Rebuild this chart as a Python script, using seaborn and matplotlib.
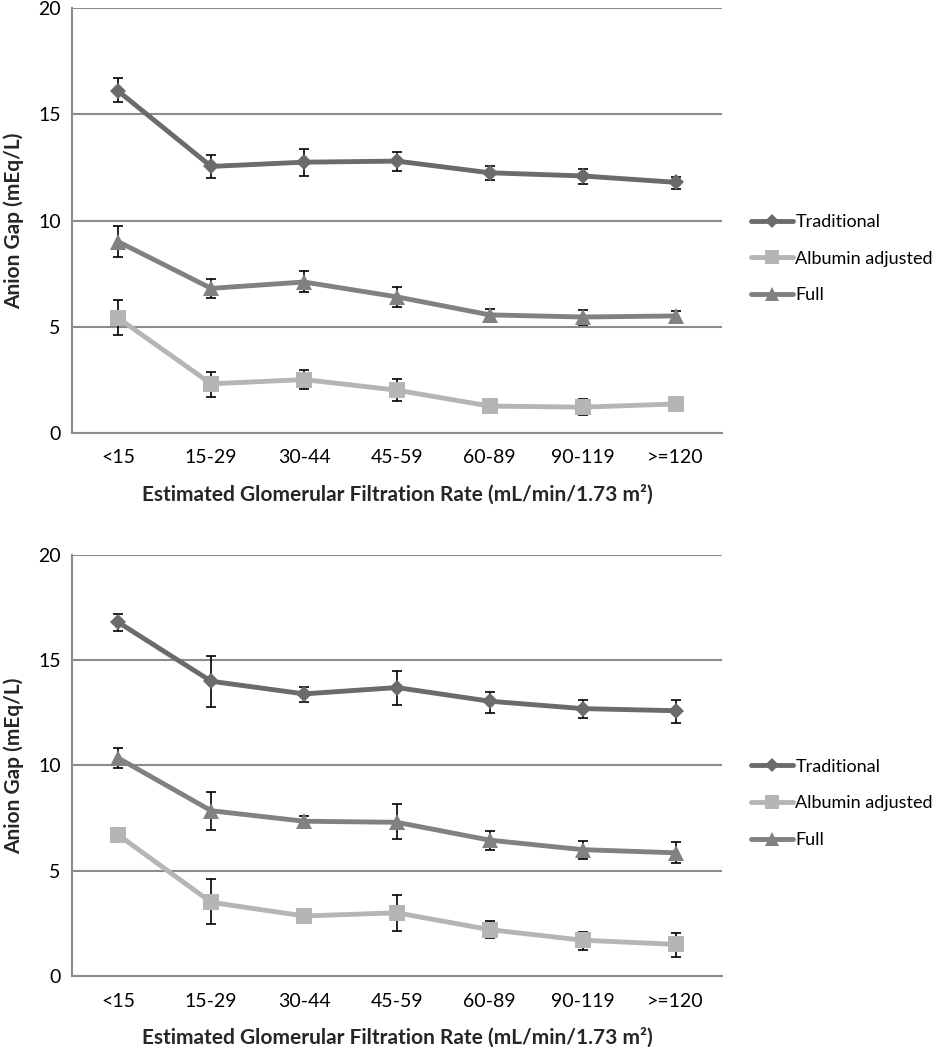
import matplotlib
matplotlib.use("Agg")
import matplotlib.pyplot as plt
from matplotlib.lines import Line2D
import seaborn as sns
import numpy as np
import pandas as pd

categories = ["<15", "15-29", "30-44", "45-59", "60-89", "90-119", ">=120"]
series_names = ["Traditional", "Albumin adjusted", "Full"]

# top panel
top_traditional = [16.1, 12.55, 12.75, 12.8, 12.25, 12.1, 11.8]
top_traditional_lo = [15.6, 12.0, 12.1, 12.35, 11.9, 11.7, 11.5]
top_traditional_hi = [16.7, 13.1, 13.35, 13.25, 12.55, 12.45, 12.05]
top_albumin = [5.4, 2.3, 2.5, 2.0, 1.25, 1.2, 1.35]
top_albumin_lo = [4.6, 1.7, 2.05, 1.5, 1.1, 0.85, 1.2]
top_albumin_hi = [6.25, 2.85, 2.95, 2.55, 1.4, 1.6, 1.5]
top_full = [9.0, 6.8, 7.1, 6.4, 5.55, 5.45, 5.5]
top_full_lo = [8.3, 6.35, 6.65, 5.9, 5.2, 5.05, 5.2]
top_full_hi = [9.75, 7.25, 7.6, 6.85, 5.85, 5.8, 5.75]

# bottom panel
bot_traditional = [16.8, 14.0, 13.4, 13.7, 13.05, 12.7, 12.6]
bot_traditional_lo = [16.4, 12.8, 13.0, 12.85, 12.5, 12.25, 12.0]
bot_traditional_hi = [17.2, 15.2, 13.75, 14.5, 13.5, 13.1, 13.1]
bot_albumin = [6.7, 3.5, 2.85, 3.0, 2.2, 1.7, 1.5]
bot_albumin_lo = [6.55, 2.45, 2.7, 2.15, 1.8, 1.25, 0.9]
bot_albumin_hi = [6.85, 4.6, 3.0, 3.85, 2.6, 2.1, 2.05]
bot_full = [10.35, 7.85, 7.35, 7.3, 6.45, 6.0, 5.85]
bot_full_lo = [9.9, 6.95, 7.15, 6.5, 6.0, 5.55, 5.35]
bot_full_hi = [10.85, 8.75, 7.6, 8.15, 6.9, 6.4, 6.35]

colors = {"Traditional": "#6b6b6b", "Albumin adjusted": "#b5b5b5", "Full": "#818181"}
markers = {"Traditional": "D", "Albumin adjusted": "s", "Full": "^"}
msizes = {"Traditional": 8, "Albumin adjusted": 11, "Full": 11}

sns.set_style("white")
plt.rcParams["font.family"] = ["Lato", "DejaVu Sans"]
plt.rcParams["text.color"] = "black"
plt.rcParams["xtick.color"] = "black"
plt.rcParams["ytick.color"] = "black"

fig = plt.figure(figsize=(9.45, 10.5), dpi=100)
ax_top = fig.add_axes([0.076, 0.588, 0.688, 0.404])
ax_bot = fig.add_axes([0.076, 0.0705, 0.688, 0.401])

panels = [
    (ax_top, {"Traditional": (top_traditional, top_traditional_lo, top_traditional_hi),
              "Albumin adjusted": (top_albumin, top_albumin_lo, top_albumin_hi),
              "Full": (top_full, top_full_lo, top_full_hi)}),
    (ax_bot, {"Traditional": (bot_traditional, bot_traditional_lo, bot_traditional_hi),
              "Albumin adjusted": (bot_albumin, bot_albumin_lo, bot_albumin_hi),
              "Full": (bot_full, bot_full_lo, bot_full_hi)}),
]

for ax, data in panels:
    rows = []
    for name in series_names:
        vals, lo, hi = data[name]
        for i, c in enumerate(categories):
            rows.append({"egfr": c, "pos": i, "series": name, "value": vals[i], "lo": lo[i], "hi": hi[i]})
    df = pd.DataFrame(rows)

    # error bars first, then lines on top
    for name in series_names:
        d = df[df["series"] == name]
        ax.errorbar(d["pos"], d["value"],
                    yerr=[d["value"] - d["lo"], d["hi"] - d["value"]],
                    fmt="none", ecolor="black", elinewidth=1.2, capsize=3.5, capthick=1.2, zorder=2)

    for name in series_names:
        d = df[df["series"] == name]
        sns.lineplot(data=d, x="pos", y="value", color=colors[name], marker=markers[name],
                     markersize=msizes[name], markeredgewidth=0, linewidth=3.5, ax=ax, zorder=3,
                     legend=False)

    ax.set_xlim(-0.5, 6.5)
    ax.set_ylim(0, 20)
    ax.set_yticks([0, 5, 10, 15, 20])
    ax.set_xticks(range(len(categories)))
    ax.set_xticklabels(categories, fontsize=14)
    ax.set_xticks(np.arange(-0.5, 7, 1), minor=True)
    ax.tick_params(axis="x", which="major", length=0, pad=12)
    ax.tick_params(axis="x", which="minor", length=7, width=1.2, color="#8c8c8c", direction="out")
    ax.tick_params(axis="y", length=0, labelsize=14, pad=8)
    ax.grid(axis="y", color="#8c8c8c", linewidth=1.5)
    ax.set_axisbelow(True)
    for s in ["top", "right"]:
        ax.spines[s].set_visible(False)
    for s in ["left", "bottom"]:
        ax.spines[s].set_color("#8c8c8c")
        ax.spines[s].set_linewidth(1.5)

    ax.set_ylabel("Anion Gap (mEq/L)", fontsize=15, fontweight="bold", labelpad=10)
    ax.set_xlabel("Estimated Glomerular Filtration Rate (mL/min/1.73 m²)",
                  fontsize=15, fontweight="bold", labelpad=13)

    handles = [Line2D([0], [0], color=colors[n], marker=markers[n], markersize=msizes[n] - 1,
                      markeredgewidth=0, linewidth=3.5) for n in series_names]
    ax.legend(handles, series_names, loc="center left", bbox_to_anchor=(1.02, 0.41),
              frameon=False, fontsize=13, handlelength=2.3, labelspacing=1.15, handletextpad=0.15)

fig.savefig("out.png", dpi=100, facecolor="white")
